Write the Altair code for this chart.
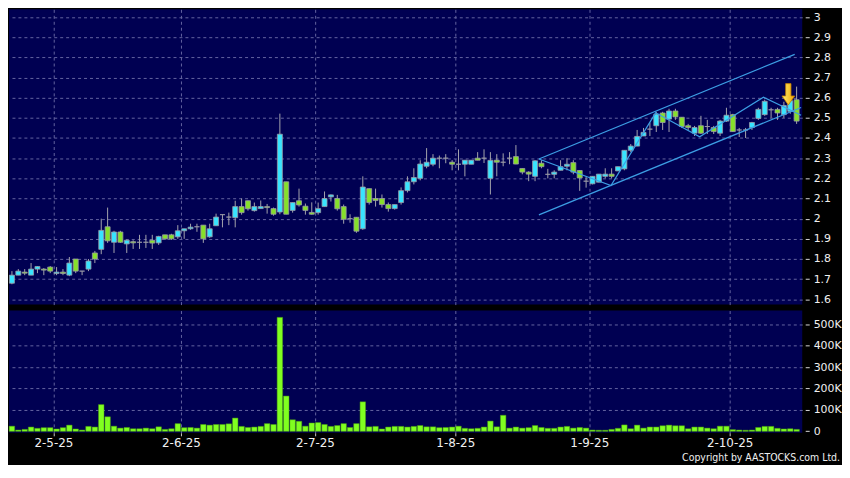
import altair as alt
import pandas as pd

# ---------------- data ----------------
opens = [1.68, 1.72, 1.735, 1.72, 1.75, 1.75, 1.76, 1.728, 1.735, 1.72,
         1.80, 1.74, 1.75, 1.83, 1.848, 1.96, 1.883, 1.934, 1.875, 1.886,
         1.883, 1.883, 1.893, 1.88, 1.92, 1.92, 1.91, 1.94, 1.95, 1.96,
         1.968, 1.91, 1.965, 2.02, 2.008, 2.005, 2.06, 2.089, 2.04, 2.05,
         2.06, 2.05, 2.033, 2.183, 2.041, 2.089, 2.062, 2.031, 2.03, 2.06,
         2.108, 2.10, 2.06, 2.0, 2.007, 1.95, 2.149, 2.10, 2.10, 2.07,
         2.05, 2.08, 2.139, 2.183, 2.20, 2.26, 2.27, 2.30, 2.30, 2.28,
         2.27, 2.27, 2.27, 2.30, 2.30, 2.20, 2.29, 2.28, 2.30, 2.308,
         2.249, 2.231, 2.21, 2.275, 2.22, 2.22, 2.24, 2.26, 2.278, 2.239,
         2.186, 2.173, 2.181, 2.21, 2.221, 2.237, 2.247, 2.339, 2.36, 2.41,
         2.444, 2.461, 2.524, 2.494, 2.534, 2.503, 2.461, 2.424, 2.461, 2.457,
         2.452, 2.424, 2.484, 2.516, 2.44, 2.44, 2.452, 2.497, 2.516, 2.54,
         2.542, 2.516, 2.532, 2.59]
highs = [1.74, 1.75, 1.75, 1.78, 1.765, 1.755, 1.765, 1.76, 1.75, 1.81,
         1.80, 1.74, 1.80, 1.84, 2.0, 2.055, 1.94, 1.94, 1.895, 1.893,
         1.92, 1.92, 1.92, 1.915, 1.92, 1.925, 1.968, 1.95, 1.975, 1.975,
         1.968, 1.975, 2.025, 2.02, 2.03, 2.089, 2.10, 2.09, 2.08, 2.09,
         2.073, 2.055, 2.521, 2.183, 2.08, 2.149, 2.075, 2.081, 2.08, 2.135,
         2.12, 2.118, 2.07, 2.022, 2.007, 2.21, 2.149, 2.149, 2.12, 2.08,
         2.07, 2.155, 2.21, 2.25, 2.29, 2.35, 2.32, 2.313, 2.32, 2.29,
         2.344, 2.29, 2.29, 2.33, 2.344, 2.33, 2.32, 2.324, 2.33, 2.365,
         2.25, 2.235, 2.29, 2.29, 2.247, 2.24, 2.29, 2.30, 2.29, 2.24,
         2.21, 2.21, 2.221, 2.25, 2.25, 2.258, 2.339, 2.37, 2.44, 2.45,
         2.476, 2.53, 2.53, 2.545, 2.545, 2.503, 2.47, 2.46, 2.51, 2.49,
         2.46, 2.49, 2.55, 2.52, 2.45, 2.45, 2.48, 2.55, 2.59, 2.55,
         2.55, 2.58, 2.60, 2.655]
lows = [1.675, 1.72, 1.72, 1.72, 1.73, 1.72, 1.73, 1.72, 1.72, 1.715,
        1.73, 1.72, 1.74, 1.78, 1.824, 1.88, 1.83, 1.88, 1.83, 1.85,
        1.85, 1.855, 1.85, 1.87, 1.895, 1.895, 1.90, 1.90, 1.945, 1.935,
        1.88, 1.905, 1.965, 1.957, 1.968, 1.957, 2.02, 2.04, 2.035, 2.05,
        2.025, 2.015, 2.022, 2.022, 2.03, 2.06, 2.02, 2.02, 2.02, 2.06,
        2.085, 2.04, 1.975, 1.98, 1.93, 1.945, 2.07, 2.06, 2.055, 2.035,
        2.045, 2.07, 2.13, 2.17, 2.19, 2.25, 2.26, 2.25, 2.275, 2.24,
        2.24, 2.21, 2.27, 2.29, 2.276, 2.12, 2.21, 2.26, 2.27, 2.27,
        2.22, 2.186, 2.186, 2.25, 2.20, 2.20, 2.24, 2.24, 2.22, 2.138,
        2.154, 2.17, 2.18, 2.20, 2.20, 2.237, 2.24, 2.33, 2.36, 2.41,
        2.41, 2.43, 2.44, 2.43, 2.49, 2.45, 2.44, 2.41, 2.42, 2.42,
        2.42, 2.41, 2.48, 2.43, 2.405, 2.40, 2.44, 2.49, 2.51, 2.50,
        2.49, 2.50, 2.52, 2.47]
closes = [1.72, 1.74, 1.73, 1.75, 1.763, 1.745, 1.74, 1.735, 1.728, 1.78,
          1.74, 1.74, 1.79, 1.80, 1.942, 1.89, 1.934, 1.883, 1.893, 1.88,
          1.883, 1.883, 1.879, 1.912, 1.90, 1.90, 1.94, 1.95, 1.958, 1.96,
          1.90, 1.95, 2.008, 2.02, 2.008, 2.06, 2.03, 2.049, 2.06, 2.06,
          2.055, 2.022, 2.419, 2.022, 2.08, 2.068, 2.041, 2.022, 2.05, 2.10,
          2.118, 2.049, 1.997, 2.0, 1.938, 2.157, 2.08, 2.09, 2.07, 2.05,
          2.07, 2.139, 2.183, 2.204, 2.271, 2.28, 2.30, 2.30, 2.30, 2.27,
          2.27, 2.29, 2.29, 2.29, 2.30, 2.289, 2.28, 2.28, 2.30, 2.271,
          2.231, 2.221, 2.287, 2.258, 2.22, 2.231, 2.258, 2.27, 2.231, 2.202,
          2.186, 2.21, 2.221, 2.221, 2.21, 2.258, 2.339, 2.36, 2.408, 2.428,
          2.444, 2.518, 2.477, 2.534, 2.505, 2.457, 2.452, 2.452, 2.424, 2.457,
          2.432, 2.484, 2.513, 2.432, 2.44, 2.44, 2.477, 2.542, 2.582, 2.54,
          2.524, 2.561, 2.585, 2.484]
volumes_k = [24, 6, 9, 20, 14, 17, 17, 11, 17, 29,
             11, 6, 23, 20, 125, 68, 24, 15, 18, 12,
             12, 15, 12, 21, 9, 12, 36, 17, 18, 15,
             32, 29, 32, 32, 35, 62, 23, 18, 20, 23,
             36, 32, 533, 165, 54, 47, 24, 39, 41, 32,
             23, 27, 36, 18, 36, 138, 21, 23, 11, 20,
             23, 23, 20, 23, 27, 21, 21, 17, 18, 20,
             24, 14, 12, 14, 20, 48, 21, 75, 15, 20,
             15, 17, 27, 18, 14, 14, 20, 23, 15, 18,
             15, 6, 5, 5, 9, 14, 30, 12, 29, 15,
             20, 20, 26, 29, 26, 26, 12, 20, 20, 15,
             12, 24, 24, 8, 6, 5, 6, 18, 23, 23,
             14, 11, 12, 9]

month_ticks = [6.5, 26.5, 47.5, 69.5, 90.5, 112.5]
month_labels = ["2-5-25", "2-6-25", "2-7-25", "1-8-25", "1-9-25", "2-10-25"]
price_ticks = [1.6, 1.7, 1.8, 1.9, 2.0, 2.1, 2.2, 2.3, 2.4, 2.5, 2.6, 2.7, 2.8, 2.9, 3.0]
volume_ticks = [0, 100000, 200000, 300000, 400000, 500000]

# drawn trend lines (index position, price)
upper_x = [82.6, 122.7]
upper_y = [2.296, 2.815]
lower_x = [82.6, 123.7]
lower_y = [2.019, 2.551]
zig_x = [82.6, 93.9, 100.9, 107.8, 117.8, 123.7]
zig_y = [2.296, 2.164, 2.525, 2.406, 2.602, 2.513]
arrow_x = [121.7]
arrow_y = [2.617]
copyright = "Copyright by AASTOCKS.com Ltd."

# ---------------- styling ----------------
NAVY = "#000052"
CYAN = "#38e4ff"
GREEN = "#86e02a"
LIME = "#80ff20"
WICK = "#a4a4ac"
GRID = "#6464a0"
LINE = "#3c9ee4"
LABEL = "#f0f0f0"
FONT = "DejaVu Sans"

W = 798
HP = 297
HV = 123

n = len(opens)
candles = pd.DataFrame({
    "i": list(range(n)),
    "open": opens, "high": highs, "low": lows, "close": closes,
})
candles["body_lo"] = candles[["open", "close"]].min(axis=1)
candles["body_hi"] = candles[["open", "close"]].max(axis=1)
candles["dir"] = ["up" if c >= o else "down" for o, c in zip(opens, closes)]

vol = pd.DataFrame({"i": list(range(n)), "vol": [v * 1000 for v in volumes_k]})

lines = pd.DataFrame(
    [{"x": x, "y": y, "line": "upper"} for x, y in zip(upper_x, upper_y)]
    + [{"x": x, "y": y, "line": "lower"} for x, y in zip(lower_x, lower_y)]
    + [{"x": x, "y": y, "line": "zig"} for x, y in zip(zig_x, zig_y)]
)
arrow = pd.DataFrame({"x": arrow_x, "y": arrow_y})

xs = alt.Scale(domain=[-0.46, 123.88], nice=False, zero=False, padding=0)
ys = alt.Scale(domain=[1.574, 3.038], nice=False, zero=False, padding=0)
vs = alt.Scale(domain=[-7000, 565000], nice=False, zero=False, padding=0)

grid_kw = dict(grid=True, gridColor=GRID, gridDash=[3, 3], gridWidth=1)

x_price_axis = alt.Axis(values=month_ticks, labels=False, ticks=False, domain=False,
                        title=None, **grid_kw)
y_price_axis = alt.Axis(orient="right", values=price_ticks, format="~g", domain=False,
                        tickSize=4, tickColor="#d8d8d8", offset=3, labelPadding=4,
                        labelColor=LABEL, labelFont=FONT, labelFontSize=11,
                        labelOverlap=False, title=None, **grid_kw)

label_expr = " : ".join(
    f"datum.value == {v} ? '{t}'" for v, t in zip(month_ticks, month_labels)
) + " : ''"
x_vol_axis = alt.Axis(values=month_ticks, labelExpr=label_expr, domain=False,
                      tickSize=3, tickColor="#c8c8c8", labelPadding=2,
                      labelColor=LABEL, labelFont=FONT, labelFontSize=12,
                      labelOverlap=False, title=None, **grid_kw)
y_vol_axis = alt.Axis(orient="right", values=volume_ticks,
                      labelExpr="datum.value == 0 ? '0' : format(datum.value / 1000, 'd') + 'K'",
                      domain=False, tickSize=4, tickColor="#d8d8d8", offset=3,
                      labelPadding=4, labelColor=LABEL, labelFont=FONT, labelFontSize=11,
                      labelOverlap=False, title=None, grid=True, gridColor=GRID,
                      gridDash=[3, 3],
                      gridOpacity={"condition": {"test": "datum.value === 0", "value": 0},
                                   "value": 1})

def px(field):
    return alt.X(field, scale=xs, axis=x_price_axis)

def py(field):
    return alt.Y(field, scale=ys, axis=y_price_axis)

base = alt.Chart(candles)
wicks = base.mark_rule(color=WICK, strokeWidth=1).encode(
    x=px("i:Q"), y=py("low:Q"), y2="high:Q",
)
bodies = base.mark_bar(width=5, stroke="#9a9aa6", strokeWidth=0.8).encode(
    x=px("i:Q"), y=py("body_lo:Q"), y2="body_hi:Q",
    color=alt.Color("dir:N", scale=alt.Scale(domain=["up", "down"], range=[CYAN, GREEN]),
                    legend=None),
)
trend = alt.Chart(lines).mark_line(color=LINE, strokeWidth=1.2).encode(
    x=px("x:Q"), y=py("y:Q"), detail="line:N",
)
arrow_path = "M-0.25,-1 L0.25,-1 L0.25,0.16 L0.6,0.16 L0,1 L-0.6,0.16 L-0.25,0.16 Z"
arrow_mark = alt.Chart(arrow).mark_point(
    shape=arrow_path, size=458, filled=True, opacity=1,
    fill=alt.LinearGradient(gradient="linear", x1=0, x2=1, y1=0, y2=0,
                            stops=[alt.GradientStop(offset=0, color="#fff070"),
                                   alt.GradientStop(offset=1, color="#f0a400")]),
    stroke="#c07a00", strokeWidth=0.8,
).encode(x=px("x:Q"), y=py("y:Q"))

price = alt.layer(wicks, bodies, trend, arrow_mark).properties(width=W, height=HP)

vbars = alt.Chart(vol).mark_bar(width=5.5, color=LIME, stroke="#4aa010", strokeWidth=0.5).encode(
    x=alt.X("i:Q", scale=xs, axis=x_vol_axis),
    y=alt.Y("vol:Q", scale=vs, axis=y_vol_axis),
    y2=alt.datum(0),
)
copy_text = alt.Chart(pd.DataFrame({"t": [copyright]})).mark_text(
    align="right", baseline="alphabetic", color=LABEL,
    font="DejaVu Sans Condensed, DejaVu Sans", fontSize=10.5,
).encode(x=alt.value(836), y=alt.value(HV + 28), text="t:N")

volume = alt.layer(vbars, copy_text).properties(width=W, height=HV)

chart = alt.vconcat(price, volume, spacing=6).properties(
    padding={"left": 0, "top": 0, "right": 0, "bottom": 0},
    background="#000000",
).configure_view(fill=NAVY, strokeWidth=0)

chart.save("out.html", embed_options={"renderer": "svg", "actions": False})
